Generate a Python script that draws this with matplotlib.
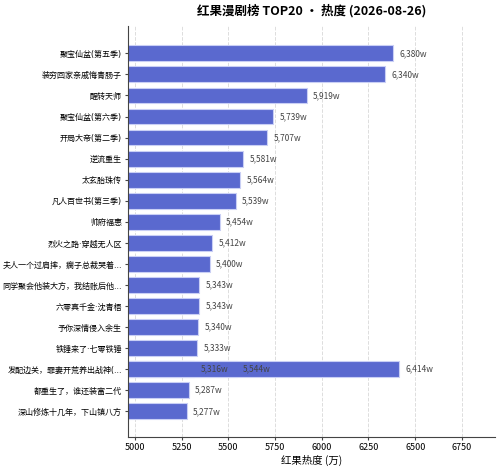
import matplotlib
matplotlib.use("Agg")
import matplotlib.pyplot as plt

plt.rcParams['font.family'] = ['Noto Sans CJK SC', 'DejaVu Sans']

# ranking names (display order, last two share a truncated label with row 16)
names = [
    "聚宝仙盆(第五季)",
    "装穷回家亲戚悔青肠子",
    "醒转天师",
    "聚宝仙盆(第六季)",
    "开局大帝(第二季)",
    "逆流重生",
    "太玄胎珠传",
    "凡人百世书(第三季)",
    "帅府福惠",
    "烈火之路·穿越无人区",
    "夫人一个过肩摔，瘸子总裁哭着...",
    "同学聚会他装大方，我结账后他...",
    "六零真千金·沈青梧",
    "予你深情侵入余生",
    "铁锤来了·七零铁锤",
    "发配边关，罪妻开荒养出战神(...",
    "都重生了，谁还装富二代",
    "深山修炼十几年，下山镇八方",
    "发配边关，罪妻开荒养出战神(...",
    "发配边关，罪妻开荒养出战神(...",
]
heat = [6380, 6340, 5919, 5739, 5707, 5581, 5564, 5539, 5454, 5412,
        5400, 5343, 5343, 5340, 5333, 5316, 5287, 5277, 5544, 6414]

rows = []
for n in names:
    if n not in rows:
        rows.append(n)
ypos = [rows.index(n) for n in names]

fig, ax = plt.subplots(figsize=(5, 4.72), dpi=100)
fig.subplots_adjust(left=0.255, right=0.99, top=0.945, bottom=0.075)

ax.barh(ypos, heat, height=0.75, color='#5a69cf', edgecolor='#c9cff5',
        linewidth=0.8, zorder=2)
for y, v in zip(ypos, heat):
    ax.text(v + 35, y, f"{v:,}w", va='center', ha='left', fontsize=6,
            color='#444444', zorder=3)

ax.set_yticks(range(len(rows)))
ax.set_yticklabels(rows, fontsize=5.8,
                   family=['DejaVu Sans', 'Noto Sans CJK SC'])
ax.set_ylim(len(rows) - 1 + 1.2, -1.3)
ax.set_xlim(min(heat) * 0.94, max(heat) * 1.08)
ax.set_xticks([5000, 5250, 5500, 5750, 6000, 6250, 6500, 6750])
ax.tick_params(axis='x', labelsize=6.5, pad=2)
ax.tick_params(axis='y', pad=1.5)
ax.tick_params(axis='both', length=2.5, color='#444444')
ax.set_xlabel("红果热度 (万)", fontsize=7.5, labelpad=2)
ax.set_title("红果漫剧榜 TOP20 • 热度 (2026-08-26)", fontsize=9,
             fontweight='bold', pad=8)

ax.grid(axis='x', linestyle='--', color='#dddddd', linewidth=0.7, zorder=0)
ax.set_axisbelow(True)
ax.spines['top'].set_visible(False)
ax.spines['right'].set_visible(False)
ax.spines['left'].set_color('#444444')
ax.spines['bottom'].set_color('#444444')

fig.savefig("out.png", dpi=100)
